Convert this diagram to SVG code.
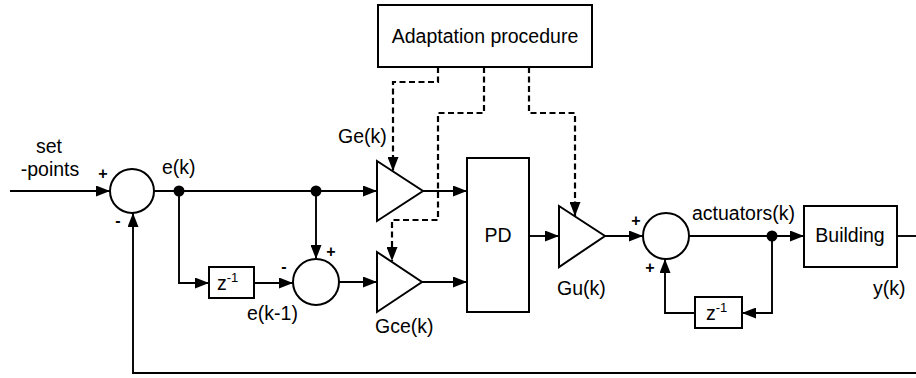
<svg xmlns="http://www.w3.org/2000/svg" width="916" height="378" viewBox="0 0 916 378">
<defs>
<style>
.ln{fill:none;stroke:#000;stroke-width:1.9}
.ds{fill:none;stroke:#000;stroke-width:2.2;stroke-dasharray:6 3.5}
.bx{fill:#fff;stroke:#000;stroke-width:2}
.t{font-family:"Liberation Sans",Arial,sans-serif;font-size:19.5px;fill:#000}
.s{font-family:"Liberation Sans",Arial,sans-serif;font-size:13px;fill:#000}
.pm{font-family:"Liberation Sans",Arial,sans-serif;font-size:16px;font-weight:bold;fill:#000;text-anchor:middle}
.m{text-anchor:middle}
</style>
<marker id="ah" markerUnits="userSpaceOnUse" markerWidth="14" markerHeight="11" refX="14" refY="5.5" orient="auto">
<path d="M0,0 L14,5.5 L0,11 z" fill="#000"/>
</marker>
</defs>

<g id="connectors">
<path class="ln" d="M10,191 H110" marker-end="url(#ah)"/>
<path class="ln" d="M154,191 H377" marker-end="url(#ah)"/>
<path class="ln" d="M179,191 V283 H209" marker-end="url(#ah)"/>
<path class="ln" d="M254,283 H293" marker-end="url(#ah)"/>
<path class="ln" d="M316,191 V259" marker-end="url(#ah)"/>
<path class="ln" d="M339,282 H377" marker-end="url(#ah)"/>
<path class="ln" d="M423,191 H467" marker-end="url(#ah)"/>
<path class="ln" d="M422,282 H467" marker-end="url(#ah)"/>
<path class="ln" d="M529,236 H559" marker-end="url(#ah)"/>
<path class="ln" d="M605,236 H643" marker-end="url(#ah)"/>
<path class="ln" d="M689,236 H804" marker-end="url(#ah)"/>
<path class="ln" d="M897,236 H916"/>
<path class="ln" d="M772,236 V313 H742" marker-end="url(#ah)"/>
<path class="ln" d="M695,313 H665 V259" marker-end="url(#ah)"/>
<path class="ln" d="M916,373 H133 V213" marker-end="url(#ah)"/>
<path class="ds" d="M438,67 V82 H393 V171" marker-end="url(#ah)"/>
<path class="ds" d="M484,67 V113 H438 V220 H392 V261" marker-end="url(#ah)"/>
<path class="ds" d="M529,67 V113 H575 V216" marker-end="url(#ah)"/>
<circle cx="179" cy="191" r="5.5" fill="#000"/>
<circle cx="316" cy="191" r="5.5" fill="#000"/>
<circle cx="772" cy="236" r="5.5" fill="#000"/>
</g>

<g id="adaptation">
<rect class="bx" x="378" y="5" width="214" height="62"/>
<text class="t m" x="485" y="43">Adaptation procedure</text>
</g>

<g id="sum1">
<circle class="bx" cx="132" cy="191" r="22"/>
<text class="pm" x="103" y="179">+</text>
<text class="pm" x="118" y="226">-</text>
</g>

<g id="delay1">
<rect class="bx" x="209" y="267" width="45" height="31"/>
<text class="t" x="217" y="290">z<tspan class="s" dy="-8">-1</tspan></text>
</g>

<g id="sum2">
<circle class="bx" cx="316" cy="282" r="23"/>
<text class="pm" x="284" y="272">-</text>
<text class="pm" x="331" y="257">+</text>
</g>

<g id="gain-ge">
<polygon class="bx" points="377,161 423,191 377,221"/>
<text class="t" x="338" y="143">Ge(k)</text>
</g>

<g id="gain-gce">
<polygon class="bx" points="377,252 422,282 377,312"/>
<text class="t" x="375" y="333">Gce(k)</text>
</g>

<g id="pd">
<rect class="bx" x="467" y="158" width="62" height="154"/>
<text class="t m" x="498" y="242">PD</text>
</g>

<g id="gain-gu">
<polygon class="bx" points="559,206 605,236 559,267"/>
<text class="t" x="557" y="295">Gu(k)</text>
</g>

<g id="sum3">
<circle class="bx" cx="666" cy="236" r="23"/>
<text class="pm" x="636" y="226">+</text>
<text class="pm" x="650" y="273">+</text>
</g>

<g id="delay2">
<rect class="bx" x="695" y="297" width="47" height="31"/>
<text class="t" x="706" y="320">z<tspan class="s" dy="-8">-1</tspan></text>
</g>

<g id="building">
<rect class="bx" x="804" y="206" width="93" height="61"/>
<text class="t m" x="850" y="242">Building</text>
</g>

<g id="labels">
<text class="t m" x="49" y="153">set</text>
<text class="t m" x="50" y="176">-points</text>
<text class="t" x="162" y="174">e(k)</text>
<text class="t" x="247" y="320">e(k-1)</text>
<text class="t" x="692" y="220">actuators(k)</text>
<text class="t" x="873" y="295">y(k)</text>
</g>
</svg>
